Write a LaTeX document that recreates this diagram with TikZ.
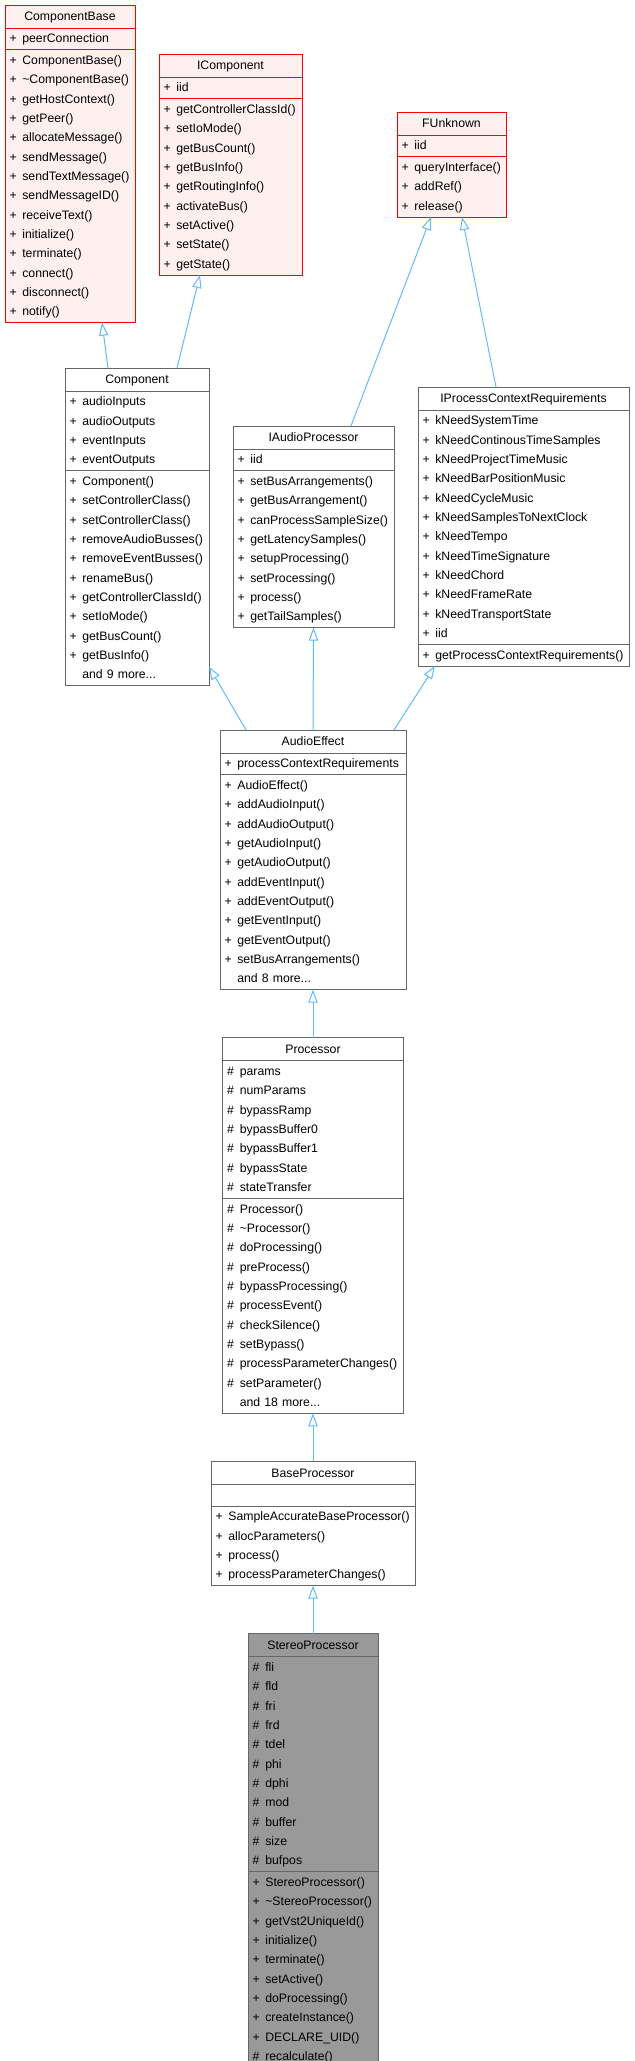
\documentclass[tikz,border=0pt]{standalone}
\usepackage{fontspec}
\setmainfont{Liberation Sans}
\usetikzlibrary{shapes.multipart,positioning,arrows.meta}

\definecolor{edgeblue}{HTML}{63B8FF}
\definecolor{redline}{HTML}{FF0000}
\definecolor{redfill}{HTML}{FFF0F0}
\definecolor{greyline}{HTML}{666666}
\definecolor{leaffill}{HTML}{999999}

\setlength{\parindent}{0pt}
\newcommand{\rowstrut}{\rule[-4.25pt]{0pt}{14.5pt}}
\newcommand{\mrow}[2]{\makebox[\hsize][l]{\makebox[9.5pt][l]{#1}#2\rowstrut}\par}
\newcommand{\pub}[1]{\mrow{+}{#1}}
\newcommand{\prot}[1]{\mrow{\#}{#1}}
\newcommand{\more}[1]{\mrow{}{and #1 more...}}
\newcommand{\cname}[1]{\rule[-4.4pt]{0pt}{15.5pt}#1}

\begin{document}
\begin{tikzpicture}
[
x=0.75pt, y=-0.75pt,
classnode/.style={rectangle split, rectangle split parts=3, anchor=north, text width=#1, align=center, inner xsep=3.5pt, inner ysep=0.5pt, outer sep=0pt, line width=0.75pt, font=\fontsize{9.2}{14.5}\selectfont},
redclass/.style={classnode=#1, draw=redline, fill=redfill},
greyclass/.style={classnode=#1, draw=greyline, fill=white},
leafclass/.style={classnode=#1, draw=greyline, fill=leaffill},
inherit/.style={draw=edgeblue, line width=0.75pt, -{Triangle[open, length=9.75pt, width=7pt]}},
node distance=36pt,
]
\useasboundingbox (0,0) rectangle (635,2061);
%Nodes

\node[redclass=90.5pt] (componentbase) at (70,5) {\cname{ComponentBase}
  \nodepart{two}\pub{peerConnection}
  \nodepart{three}\pub{ComponentBase()}\pub{\textasciitilde ComponentBase()}\pub{getHostContext()}\pub{getPeer()}\pub{allocateMessage()}\pub{sendMessage()}\pub{sendTextMessage()}\pub{sendMessageID()}\pub{receiveText()}\pub{initialize()}\pub{terminate()}\pub{connect()}\pub{disconnect()}\pub{notify()}};
\node[redclass=100.25pt] (icomponent) at (230.5,54) {\cname{IComponent}
  \nodepart{two}\pub{iid}
  \nodepart{three}\pub{getControllerClassId()}\pub{setIoMode()}\pub{getBusCount()}\pub{getBusInfo()}\pub{getRoutingInfo()}\pub{activateBus()}\pub{setActive()}\pub{setState()}\pub{getState()}};
\node[redclass=74.75pt] (funknown) at (451.5,112) {\cname{FUnknown}
  \nodepart{two}\pub{iid}
  \nodepart{three}\pub{queryInterface()}\pub{addRef()}\pub{release()}};
\node[greyclass=101pt] (component) at (137,368) {\cname{Component}
  \nodepart{two}\pub{audioInputs}\pub{audioOutputs}\pub{eventInputs}\pub{eventOutputs}
  \nodepart{three}\pub{Component()}\pub{setControllerClass()}\pub{setControllerClass()}\pub{removeAudioBusses()}\pub{removeEventBusses()}\pub{renameBus()}\pub{getControllerClassId()}\pub{setIoMode()}\pub{getBusCount()}\pub{getBusInfo()}\more{9}};
\node[greyclass=113.75pt] (iaudioprocessor) at (313.5,426) {\cname{IAudioProcessor}
  \nodepart{two}\pub{iid}
  \nodepart{three}\pub{setBusArrangements()}\pub{getBusArrangement()}\pub{canProcessSampleSize()}\pub{getLatencySamples()}\pub{setupProcessing()}\pub{setProcessing()}\pub{process()}\pub{getTailSamples()}};
\node[greyclass=151.25pt] (iprocesscontextrequirements) at (523.5,387) {\cname{IProcessContextRequirements}
  \nodepart{two}\pub{kNeedSystemTime}\pub{kNeedContinousTimeSamples}\pub{kNeedProjectTimeMusic}\pub{kNeedBarPositionMusic}\pub{kNeedCycleMusic}\pub{kNeedSamplesToNextClock}\pub{kNeedTempo}\pub{kNeedTimeSignature}\pub{kNeedChord}\pub{kNeedFrameRate}\pub{kNeedTransportState}\pub{iid}
  \nodepart{three}\pub{getProcessContextRequirements()}};
\node[greyclass=132.5pt] (audioeffect) at (313,730) {\cname{AudioEffect}
  \nodepart{two}\pub{processContextRequirements}
  \nodepart{three}\pub{AudioEffect()}\pub{addAudioInput()}\pub{addAudioOutput()}\pub{getAudioInput()}\pub{getAudioOutput()}\pub{addEventInput()}\pub{addEventOutput()}\pub{getEventInput()}\pub{getEventOutput()}\pub{setBusArrangements()}\more{8}};
\node[greyclass=128.75pt] (processor) [below=of audioeffect] {\cname{Processor}
  \nodepart{two}\prot{params}\prot{numParams}\prot{bypassRamp}\prot{bypassBuffer0}\prot{bypassBuffer1}\prot{bypassState}\prot{stateTransfer}
  \nodepart{three}\prot{Processor()}\prot{\textasciitilde Processor()}\prot{doProcessing()}\prot{preProcess()}\prot{bypassProcessing()}\prot{processEvent()}\prot{checkSilence()}\prot{setBypass()}\prot{processParameterChanges()}\prot{setParameter()}\more{18}};
\node[greyclass=146pt] (baseprocessor) [below=of processor] {\cname{BaseProcessor}
  \nodepart{two}\mrow{}{}
  \nodepart{three}\pub{SampleAccurateBaseProcessor()}\pub{allocParameters()}\pub{process()}\pub{processParameterChanges()}};
\node[leafclass=90.5pt] (stereoprocessor) [below=of baseprocessor] {\cname{StereoProcessor}
  \nodepart{two}\prot{fli}\prot{fld}\prot{fri}\prot{frd}\prot{tdel}\prot{phi}\prot{dphi}\prot{mod}\prot{buffer}\prot{size}\prot{bufpos}
  \nodepart{three}\pub{StereoProcessor()}\pub{\textasciitilde StereoProcessor()}\pub{getVst2UniqueId()}\pub{initialize()}\pub{terminate()}\pub{setActive()}\pub{doProcessing()}\pub{createInstance()}\pub{DECLARE\_UID()}\prot{recalculate()}};

%Lines
\draw[inherit] ([xshift=-21.75pt]component.north) -- ([xshift=24pt]componentbase.south);
\draw[inherit] ([xshift=30pt]component.north) -- ([xshift=-22.9pt]icomponent.south);
\draw[inherit] ([xshift=28.1pt]iaudioprocessor.north) -- ([xshift=-15.4pt]funknown.south);
\draw[inherit] ([xshift=-20.6pt]iprocesscontextrequirements.north) -- ([xshift=7.9pt]funknown.south);
\draw[inherit] ([xshift=-50.25pt]audioeffect.north) -- ([yshift=14.25pt]component.south east);
\draw[inherit] (audioeffect.north) -- (iaudioprocessor.south);
\draw[inherit] ([xshift=60.75pt]audioeffect.north) -- ([xshift=-66.4pt]iprocesscontextrequirements.south);
\draw[inherit] (processor.north) -- (audioeffect.south);
\draw[inherit] (baseprocessor.north) -- (processor.south);
\draw[inherit] (stereoprocessor.north) -- (baseprocessor.south);
\end{tikzpicture}
\end{document}
